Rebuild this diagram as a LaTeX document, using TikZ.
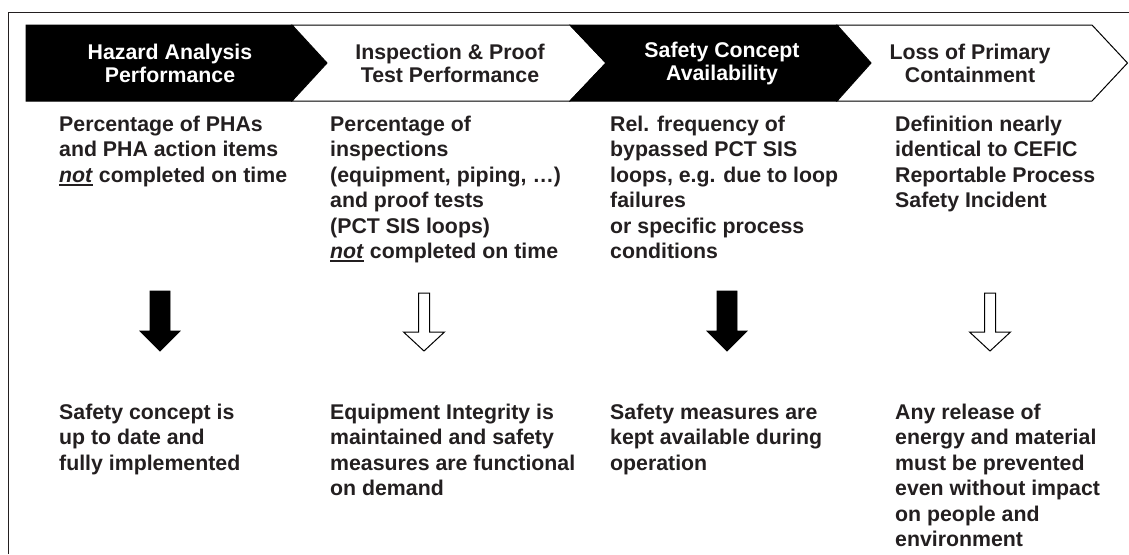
\documentclass[tikz,border=0pt]{standalone}
\usepackage{fontspec}
\setmainfont{Liberation Sans}
\definecolor{ink}{HTML}{231F20}
\newcommand\ulnot{\leavevmode\setbox0\hbox{\textit{not}}\rlap{\rule[-3.6pt]{\wd0}{1.8pt}}\box0}
\begin{document}
\begin{tikzpicture}[x=1pt,y=-1pt,
  chevb/.style={fill=black,draw=black,line width=1pt},
  chevw/.style={fill=white,draw=black,line width=1pt},
  headtxt/.style={font=\fontsize{21.3}{23}\selectfont\bfseries,align=center,inner sep=0},
  bodytxt/.style={font=\fontsize{21.3}{25.5}\selectfont\bfseries,align=left,anchor=north west,inner sep=0,text=ink},
  barrow/.style={fill=black,draw=black,line width=0.8pt},
  warrow/.style={fill=white,draw=black,line width=1pt}]
\useasboundingbox (0,0) rectangle (1129,554);
\draw[line width=1.3pt, draw=ink] (8.5,554) -- (8.5,12.7) -- (1129,12.7);
% chevrons
\path[chevb] (26,25) -- (292,25) -- (327,63) -- (292,101) -- (26,101) -- cycle;
\path[chevw] (292,25) -- (570,25) -- (606,63) -- (570,101) -- (292,101) -- (327,63) -- cycle;
\path[chevb] (570,25) -- (837,25) -- (871,63) -- (837,101) -- (570,101) -- (606,63) -- cycle;
\path[chevw] (837,25) -- (1092,25) -- (1127.5,63) -- (1092,101) -- (837,101) -- (871,63) -- cycle;
\node[headtxt,text=white] (h1) at (170,63) {Hazard Analysis\\Performance};
\node[headtxt,text=ink] (h2) at (450,63) {Inspection \& Proof\\Test Performance};
\node[headtxt,text=white] (h3) at (722,63) {Safety Concept\\Availability};
\node[headtxt,text=ink] (h4) at (970,63) {Loss of Primary\\Containment};
% indicator texts
\node[bodytxt] (t1) at (59,113) {\strut Percentage of PHAs\\and PHA action items\\\ulnot{} completed on time};
\node[bodytxt] (t2) at (330,113) {\strut Percentage of\\inspections\\(equipment, piping, …)\\and proof tests\\(PCT SIS loops)\\\ulnot{} completed on time};
\node[bodytxt] (t3) at (610,113) {\strut Rel. frequency of\\bypassed PCT SIS\\loops, e.g. due to loop\\failures\\or specific process\\conditions};
\node[bodytxt] (t4) at (895,113) {\strut Definition nearly\\identical to CEFIC\\Reportable Process\\Safety Incident};
% arrows
\foreach \cx in {160,727}
  \path[barrow] (\cx-10,291) -- (\cx+10,291) -- (\cx+10,331) -- (\cx+20,331) -- (\cx,351) -- (\cx-20,331) -- (\cx-10,331) -- cycle;
\foreach \cx in {424,990}
  \path[warrow] (\cx-5.5,293) -- (\cx+5.5,293) -- (\cx+5.5,332) -- (\cx+20.5,332) -- (\cx,351) -- (\cx-20.5,332) -- (\cx-5.5,332) -- cycle;
% goal texts
\node[bodytxt] (b1) at (59,401) {\strut Safety concept is\\up to date and\\fully implemented};
\node[bodytxt] (b2) at (330,401) {\strut Equipment Integrity is\\maintained and safety\\measures are functional\\on demand};
\node[bodytxt] (b3) at (610,401) {\strut Safety measures are\\kept available during\\operation};
\node[bodytxt] (b4) at (895,401) {\strut Any release of\\energy and material\\must be prevented\\even without impact\\on people and\\environment};
\end{tikzpicture}
\end{document}
